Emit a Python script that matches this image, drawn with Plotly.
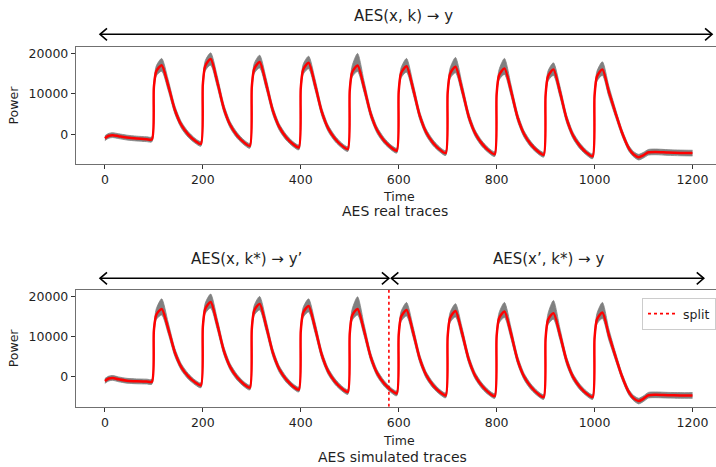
import plotly.graph_objects as go

# ---- data ----
time = [0, 8, 16, 28, 45, 65, 85,
        96, 100, 105, 116, 129, 143, 156, 170, 184,
        196, 200, 205, 216, 229, 243, 256, 270, 284,
        296, 300, 305, 316, 329, 343, 356, 370, 384,
        396, 400, 405, 416, 429, 443, 456, 470, 484,
        496, 500, 505, 516, 529, 543, 556, 570, 584,
        596, 600, 605, 616, 629, 643, 656, 670, 684,
        696, 700, 705, 716, 729, 743, 756, 770, 784,
        796, 800, 805, 816, 829, 843, 856, 870, 884,
        896, 900, 905, 916, 929, 943, 956, 970, 984,
        996, 1000, 1005, 1016, 1029, 1043, 1056, 1070, 1080,
        1090, 1100, 1110, 1125, 1150, 1175, 1200]

real_mean = [-1000, -400, -250, -500, -850, -1100, -1250,
             -1300, 11580, 15630, 17100, 12225, 5985, 2280, -60, -1620,
             -2400, 12300, 16920, 18600, 13225, 6345, 2260, -320, -2040,
             -2900, 11660, 16236, 17900, 12600, 5816, 1788, -756, -2452,
             -3300, 11400, 16020, 17700, 12350, 5502, 1436, -1132, -2844,
             -3700, 10790, 15344, 17000, 11725, 4973, 964, -1568, -3256,
             -4100, 10565, 15174, 16850, 11463, 4567, 472, -2114, -3838,
             -4700, 10280, 14988, 16700, 11288, 4360, 246, -2352, -4084,
             -4950, 9925, 14600, 16300, 10950, 4102, 36, -2532, -4244,
             -5100, 9705, 14358, 16050, 10663, 3767, -328, -2914, -4638,
             -5500, 9585, 14326, 16050, 10613, 5175, 390, -3525, -5050,
             -5700, -5200, -4500, -4400, -4550, -4650, -4700]

sim_mean = [-1000, -400, -250, -600, -950, -1100, -1150,
            -1200, 11470, 15452, 16900, 12150, 6070, 2460, 180, -1340,
            -2100, 12390, 16944, 18600, 13288, 6488, 2450, -100, -1800,
            -2650, 11910, 16486, 18150, 12825, 6009, 1962, -594, -2298,
            -3150, 11410, 15986, 17650, 12300, 5452, 1386, -1182, -2894,
            -3750, 10705, 15248, 16900, 11650, 4930, 940, -1580, -3260,
            -4100, 10425, 14990, 16650, 11338, 4538, 500, -2050, -3750,
            -4600, 10100, 14720, 16400, 11113, 4345, 326, -2212, -3904,
            -4750, 10150, 14570, 16250, 10938, 4138, 100, -2450, -4150,
            -5000, 9595, 14182, 15850, 10638, 3966, 4, -2498, -4166,
            -5000, 9700, 14320, 16000, 10500, 5000, 160, -3800, -5340,
            -6000, -5400, -4550, -4450, -4550, -4600, -4600]

# spread of the grey trace bundle above / below the mean
real_up = [600, 600, 600, 600, 600, 600, 600,
           600, 800, 1300, 1670, 1400, 1000, 800, 700, 600,
           600, 800, 1300, 1550, 1400, 1000, 800, 700, 600,
           600, 800, 1300, 1680, 1400, 1000, 800, 700, 600,
           600, 800, 1300, 1630, 1400, 1000, 800, 700, 600,
           600, 800, 1600, 3000, 1600, 1000, 800, 700, 600,
           600, 800, 1300, 1920, 1400, 1000, 800, 700, 600,
           600, 800, 1400, 2300, 1500, 1000, 800, 700, 600,
           600, 800, 1400, 2470, 1500, 1000, 800, 700, 600,
           600, 800, 1300, 1630, 1400, 1000, 800, 700, 600,
           600, 800, 1300, 1880, 1400, 1000, 800, 700, 700,
           700, 700, 700, 700, 700, 700, 700]

sim_up = [600, 600, 600, 600, 600, 600, 600,
          600, 800, 1500, 2500, 1500, 1000, 800, 700, 600,
          600, 800, 1400, 2000, 1400, 1000, 800, 700, 600,
          600, 800, 1300, 1850, 1400, 1000, 800, 700, 600,
          600, 800, 1300, 1750, 1400, 1000, 800, 700, 600,
          600, 800, 1600, 3000, 1600, 1000, 800, 700, 600,
          600, 800, 1300, 1850, 1400, 1000, 800, 700, 600,
          600, 800, 1300, 1800, 1400, 1000, 800, 700, 600,
          600, 800, 1400, 2250, 1500, 1000, 800, 700, 600,
          600, 800, 1600, 3150, 1600, 1000, 800, 700, 600,
          600, 800, 1500, 2500, 1500, 1000, 800, 700, 700,
          700, 700, 700, 700, 700, 700, 700]

band_dn = [600, 600, 600, 600, 600, 600, 600] + \
          [600, 800, 1200, 1500, 1300, 1000, 800, 700, 600] * 10 + \
          [700, 700, 700, 700, 700, 700, 700]

split_time = 580
x_ticks = [0, 200, 400, 600, 800, 1000, 1200]
y_ticks = [0, 10000, 20000]
y_tick_text = ["0", "10000", "20000"]

# ---- figure ----
W, H = 716, 467
FONT = "DejaVu Sans"
TXT = "#1f1f1f"
GREY = "#808080"

def px_x(p):
    return p / W

def px_y(p):
    return 1 - p / H

fig = go.Figure()

def add_panel(mean, up, xa, ya):
    hi = [m + u for m, u in zip(mean, up)]
    lo = [m - d for m, d in zip(mean, band_dn)]
    fig.add_trace(go.Scatter(x=time, y=lo, mode="lines", line=dict(width=0.8, color=GREY, shape="spline", smoothing=0.7),
                             xaxis=xa, yaxis=ya, showlegend=False, hoverinfo="skip"))
    fig.add_trace(go.Scatter(x=time, y=hi, mode="lines", line=dict(width=0.8, color=GREY, shape="spline", smoothing=0.7),
                             fill="tonexty", fillcolor=GREY,
                             xaxis=xa, yaxis=ya, showlegend=False, hoverinfo="skip"))
    fig.add_trace(go.Scatter(x=time, y=mean, mode="lines", line=dict(width=2.5, color="#ff0000", shape="spline", smoothing=0.7),
                             xaxis=xa, yaxis=ya, showlegend=False))

add_panel(real_mean, real_up, "x", "y")
add_panel(sim_mean, sim_up, "x2", "y2")

YR = [-7400, 21600]
fig.add_trace(go.Scatter(x=[split_time, split_time], y=YR, mode="lines",
                         line=dict(color="#ff0000", width=1.6, dash="dot"),
                         name="split", xaxis="x2", yaxis="y2", showlegend=True))

axis_common = dict(showgrid=False, zeroline=False, showline=True, linecolor="#707070", linewidth=1.4,
                   ticks="outside", ticklen=4, tickwidth=1, tickcolor="#333",
                   tickfont=dict(family=FONT, size=12.5, color=TXT))

XR = [-59, 1248]
xdom = [px_x(76), 1.0]
fig.update_layout(
    width=W, height=H, margin=dict(l=0, r=0, t=0, b=0),
    paper_bgcolor="white", plot_bgcolor="white",
    xaxis=dict(domain=xdom, range=XR, tickvals=x_ticks, mirror=True, anchor="y", **axis_common),
    yaxis=dict(domain=[px_y(164), px_y(47)], range=YR, tickvals=y_ticks, ticktext=y_tick_text, anchor="x", **axis_common),
    xaxis2=dict(domain=xdom, range=XR, tickvals=x_ticks, mirror=True, anchor="y2", **axis_common),
    yaxis2=dict(domain=[px_y(406.7), px_y(290)], range=YR, tickvals=y_ticks, ticktext=y_tick_text, anchor="x2", **axis_common),
    legend=dict(x=px_x(642), y=px_y(298), xanchor="left", yanchor="top",
                bgcolor="rgba(255,255,255,0.9)", bordercolor="#cccccc", borderwidth=1,
                font=dict(family=FONT, size=12.5, color=TXT)),
    font=dict(family=FONT, color=TXT),
)

anns = []
def ann(text, x, y, size, angle=0):
    anns.append(dict(text=text, x=x, y=y, xref="paper", yref="paper", showarrow=False,
                     xanchor="center", yanchor="middle", textangle=angle,
                     font=dict(family=FONT, size=size, color=TXT)))

ann("Power", px_x(13), px_y(105.5), 12.5, -90)
ann("Power", px_x(13), px_y(348.3), 12.5, -90)
ann("Time", px_x(399), px_y(196), 12.5)
ann("Time", px_x(399), px_y(440), 12.5)
ann("AES real traces", px_x(395), px_y(211), 14)
ann("AES simulated traces", px_x(392), px_y(457), 14)
ann("AES(x, k) \u2192 y", px_x(403), px_y(16), 15)
ann("AES(x, k*) \u2192 y\u2019", px_x(246), px_y(259), 15)
ann("AES(x\u2019, k*) \u2192 y", px_x(548), px_y(259), 15)
fig.update_layout(annotations=anns)

shapes = []
def arrow(x0, x1, ypx, xref):
    yp = px_y(ypx)
    shapes.append(dict(type="line", xref=xref, yref="paper", x0=x0, x1=x1, y0=yp, y1=yp,
                       line=dict(color="black", width=1.6)))
    shapes.append(dict(type="path", xref=xref, yref="paper", xsizemode="pixel", ysizemode="pixel",
                       xanchor=x0, yanchor=yp, path="M 7 6 L 0 0 L 7 -6",
                       line=dict(color="black", width=1.6)))
    shapes.append(dict(type="path", xref=xref, yref="paper", xsizemode="pixel", ysizemode="pixel",
                       xanchor=x1, yanchor=yp, path="M -7 6 L 0 0 L -7 -6",
                       line=dict(color="black", width=1.6)))

arrow(-10, 1240, 34.3, "x")
arrow(-10, split_time, 278.3, "x2")
arrow(585, 1223, 278.3, "x2")
fig.update_layout(shapes=shapes)

fig.write_html("out.html", config={"displayModeBar": False},
               post_script="document.body.style.margin='0';document.body.style.overflow='hidden';")
